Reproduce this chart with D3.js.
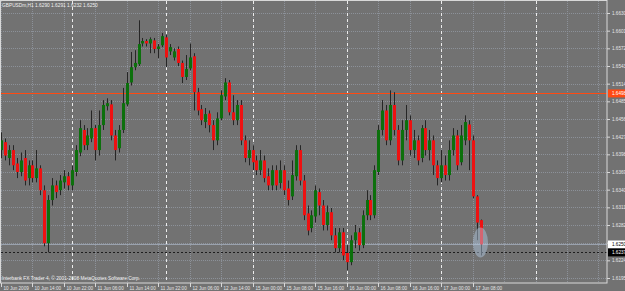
<!DOCTYPE html>
<html>
<head>
<meta charset="utf-8">
<script src="https://cdn.jsdelivr.net/npm/d3@7"></script>
<style>
  body { margin: 0; background: #727272; }
  svg { display: block; }
  text { font-family: "Liberation Sans", Arial, sans-serif; }
</style>
</head>
<body>
<div id="chart"></div>
<script>
// GBPUSDm H1 candles, 10 Jun 2009 06:00 .. 17 Jun 2009 10:00
var symbolTitle = "GBPUSDm,H1  1.6290 1.6291 1.6232 1.6250";
var copyright = "Interbank FX Trader 4, \u00a9 2001-2008 MetaQuotes Software Corp.";

// one label every 8 bars, first at bar 0
var timeLabels = ["10 Jun 2009", "10 Jun 14:00", "10 Jun 22:00", "11 Jun 06:00", "11 Jun 14:00",
  "11 Jun 22:00", "12 Jun 06:00", "12 Jun 14:00", "15 Jun 00:00", "15 Jun 08:00", "15 Jun 16:00",
  "16 Jun 00:00", "16 Jun 08:00", "16 Jun 16:00", "17 Jun 00:00", "17 Jun 08:00"];
var labelStep = 8;
// bar index where a new day starts
var daySeparators = [18, 42, 64, 88, 112, 136];

var priceTicks = [1.6195, 1.6224, 1.6253, 1.6282, 1.6311, 1.6340, 1.6369, 1.6398,
  1.6427, 1.6456, 1.6485, 1.6514, 1.6543, 1.6572, 1.6601, 1.6630];

var levelLine = 1.6498;   // orange horizontal line
var bidPrice = 1.6250;
var markerLine = 1.6237;  // dotted black line

// open, high, low, close
var ohlc = [
  [1.6405, 1.6434, 1.6392, 1.6421], [1.6418, 1.6424, 1.6388, 1.6396], [1.6392, 1.6413, 1.6380, 1.6405],
  [1.6405, 1.6413, 1.6372, 1.6380], [1.6383, 1.6392, 1.6359, 1.6369], [1.6369, 1.6401, 1.6362, 1.6388],
  [1.6392, 1.6405, 1.6347, 1.6355], [1.6359, 1.6388, 1.6347, 1.6380], [1.6380, 1.6388, 1.6352, 1.6359],
  [1.6359, 1.6405, 1.6352, 1.6375], [1.6375, 1.6380, 1.6331, 1.6339], [1.6339, 1.6347, 1.6247, 1.6252],
  [1.6252, 1.6331, 1.6237, 1.6323], [1.6323, 1.6359, 1.6314, 1.6347], [1.6347, 1.6355, 1.6326, 1.6336],
  [1.6339, 1.6364, 1.6331, 1.6355], [1.6352, 1.6372, 1.6342, 1.6362], [1.6362, 1.6369, 1.6339, 1.6347],
  [1.6347, 1.6380, 1.6339, 1.6372], [1.6369, 1.6413, 1.6362, 1.6405], [1.6401, 1.6454, 1.6395, 1.6441],
  [1.6438, 1.6446, 1.6405, 1.6413], [1.6413, 1.6441, 1.6405, 1.6429], [1.6424, 1.6470, 1.6418, 1.6441],
  [1.6441, 1.6446, 1.6388, 1.6405], [1.6405, 1.6470, 1.6396, 1.6446], [1.6446, 1.6487, 1.6438, 1.6479],
  [1.6477, 1.6490, 1.6470, 1.6482], [1.6480, 1.6487, 1.6421, 1.6429], [1.6429, 1.6438, 1.6388, 1.6405],
  [1.6408, 1.6446, 1.6401, 1.6438], [1.6438, 1.6507, 1.6433, 1.6482], [1.6480, 1.6533, 1.6477, 1.6515],
  [1.6516, 1.6566, 1.6511, 1.6541], [1.6541, 1.6569, 1.6536, 1.6548], [1.6546, 1.6618, 1.6543, 1.6579],
  [1.6580, 1.6589, 1.6575, 1.6584], [1.6584, 1.6587, 1.6575, 1.6580], [1.6580, 1.6590, 1.6564, 1.6587],
  [1.6585, 1.6589, 1.6564, 1.6571], [1.6571, 1.6579, 1.6556, 1.6575], [1.6577, 1.6597, 1.6574, 1.6592],
  [1.6590, 1.6594, 1.6541, 1.6557], [1.6567, 1.6579, 1.6561, 1.6574], [1.6557, 1.6572, 1.6552, 1.6567],
  [1.6571, 1.6575, 1.6543, 1.6548], [1.6548, 1.6552, 1.6515, 1.6525], [1.6525, 1.6561, 1.6520, 1.6538],
  [1.6539, 1.6580, 1.6536, 1.6557], [1.6559, 1.6564, 1.6470, 1.6500], [1.6500, 1.6507, 1.6462, 1.6470],
  [1.6472, 1.6479, 1.6446, 1.6454], [1.6451, 1.6474, 1.6441, 1.6464], [1.6465, 1.6470, 1.6434, 1.6446],
  [1.6446, 1.6454, 1.6405, 1.6421], [1.6421, 1.6467, 1.6413, 1.6457], [1.6457, 1.6503, 1.6454, 1.6495],
  [1.6493, 1.6523, 1.6487, 1.6516], [1.6516, 1.6520, 1.6462, 1.6467], [1.6467, 1.6495, 1.6446, 1.6454],
  [1.6454, 1.6487, 1.6446, 1.6479], [1.6479, 1.6487, 1.6413, 1.6421], [1.6421, 1.6429, 1.6385, 1.6392],
  [1.6392, 1.6421, 1.6380, 1.6405], [1.6405, 1.6413, 1.6372, 1.6385], [1.6388, 1.6396, 1.6364, 1.6372],
  [1.6372, 1.6405, 1.6364, 1.6388], [1.6388, 1.6396, 1.6352, 1.6359], [1.6362, 1.6375, 1.6339, 1.6347],
  [1.6347, 1.6380, 1.6339, 1.6372], [1.6372, 1.6380, 1.6339, 1.6347], [1.6351, 1.6388, 1.6342, 1.6372],
  [1.6372, 1.6380, 1.6331, 1.6339], [1.6342, 1.6355, 1.6314, 1.6323], [1.6329, 1.6388, 1.6323, 1.6364],
  [1.6362, 1.6413, 1.6355, 1.6405], [1.6405, 1.6413, 1.6347, 1.6355], [1.6355, 1.6364, 1.6290, 1.6298],
  [1.6301, 1.6314, 1.6265, 1.6273], [1.6277, 1.6306, 1.6270, 1.6298], [1.6296, 1.6347, 1.6286, 1.6339],
  [1.6336, 1.6342, 1.6298, 1.6314], [1.6314, 1.6323, 1.6273, 1.6282], [1.6282, 1.6314, 1.6273, 1.6303],
  [1.6303, 1.6310, 1.6257, 1.6265], [1.6265, 1.6277, 1.6237, 1.6244], [1.6244, 1.6277, 1.6237, 1.6270],
  [1.6270, 1.6277, 1.6224, 1.6232], [1.6236, 1.6249, 1.6208, 1.6221], [1.6221, 1.6265, 1.6216, 1.6257],
  [1.6257, 1.6282, 1.6244, 1.6270], [1.6270, 1.6277, 1.6240, 1.6249], [1.6249, 1.6306, 1.6244, 1.6298],
  [1.6298, 1.6339, 1.6290, 1.6323], [1.6323, 1.6331, 1.6290, 1.6298], [1.6298, 1.6380, 1.6293, 1.6372],
  [1.6369, 1.6446, 1.6364, 1.6438], [1.6438, 1.6487, 1.6429, 1.6470], [1.6470, 1.6479, 1.6413, 1.6421],
  [1.6421, 1.6503, 1.6413, 1.6479], [1.6479, 1.6500, 1.6429, 1.6438], [1.6438, 1.6446, 1.6380, 1.6388],
  [1.6388, 1.6454, 1.6380, 1.6438], [1.6438, 1.6479, 1.6421, 1.6454], [1.6454, 1.6462, 1.6396, 1.6405],
  [1.6405, 1.6438, 1.6392, 1.6421], [1.6421, 1.6429, 1.6380, 1.6388], [1.6392, 1.6446, 1.6385, 1.6441],
  [1.6441, 1.6454, 1.6396, 1.6405], [1.6405, 1.6438, 1.6388, 1.6421], [1.6421, 1.6429, 1.6364, 1.6380],
  [1.6380, 1.6388, 1.6347, 1.6359], [1.6359, 1.6405, 1.6352, 1.6380], [1.6380, 1.6396, 1.6355, 1.6364],
  [1.6364, 1.6421, 1.6355, 1.6405], [1.6405, 1.6441, 1.6396, 1.6429], [1.6429, 1.6438, 1.6372, 1.6380],
  [1.6385, 1.6446, 1.6380, 1.6429], [1.6421, 1.6462, 1.6413, 1.6451], [1.6447, 1.6454, 1.6372, 1.6421],
  [1.6421, 1.6429, 1.6326, 1.6329], [1.6329, 1.6331, 1.6257, 1.6286], [1.6290, 1.6291, 1.6232, 1.6250]
];

var svgWidth = 625;
var svgHeight = 291;
var plotRight = 607;
var plotBottom = 283;

var svg = d3.select("#chart")
  .append("svg")
  .attr("width", svgWidth)
  .attr("height", svgHeight);

svg.append("rect")
  .attr("width", svgWidth)
  .attr("height", svgHeight)
  .attr("fill", "#727272");

// bar index -> x, price -> y
var xScale = d3.scaleLinear().domain([0, 122]).range([1, 480.5]);
var yScale = d3.scaleLinear().domain([1.6195, 1.6630]).range([278, 13]);

var gridColor = "#8c9199";

// grid
var gridBars = d3.range(0, 160, labelStep).filter(i => xScale(i) < plotRight - 2);
svg.append("g").selectAll("line")
  .data(gridBars)
  .enter()
  .append("line")
  .attr("x1", d => Math.round(xScale(d)) + 0.5)
  .attr("x2", d => Math.round(xScale(d)) + 0.5)
  .attr("y1", 1)
  .attr("y2", plotBottom)
  .attr("stroke", gridColor)
  .attr("stroke-dasharray", "1,1");

svg.append("g").selectAll("line")
  .data(priceTicks)
  .enter()
  .append("line")
  .attr("x1", 1)
  .attr("x2", plotRight)
  .attr("y1", d => Math.round(yScale(d)) + 0.5)
  .attr("y2", d => Math.round(yScale(d)) + 0.5)
  .attr("stroke", gridColor)
  .attr("stroke-dasharray", "1,1");

// day separators
svg.append("g").selectAll("line")
  .data(daySeparators)
  .enter()
  .append("line")
  .attr("x1", d => Math.round(xScale(d)) + 0.5)
  .attr("x2", d => Math.round(xScale(d)) + 0.5)
  .attr("y1", 1)
  .attr("y2", plotBottom)
  .attr("stroke", "#ececec")
  .attr("stroke-dasharray", "3,3");

// orange level
svg.append("line")
  .attr("x1", 1).attr("x2", plotRight)
  .attr("y1", Math.round(yScale(levelLine)) + 0.5)
  .attr("y2", Math.round(yScale(levelLine)) + 0.5)
  .attr("stroke", "#ff4a12");

// bid line
svg.append("line")
  .attr("x1", 1).attr("x2", plotRight)
  .attr("y1", Math.round(yScale(bidPrice)) + 0.5)
  .attr("y2", Math.round(yScale(bidPrice)) + 0.5)
  .attr("stroke", "#9aa2ae");

svg.append("line")
  .attr("x1", 1).attr("x2", plotRight)
  .attr("y1", Math.round(yScale(markerLine)) + 0.5)
  .attr("y2", Math.round(yScale(markerLine)) + 0.5)
  .attr("stroke", "#1e1e1e")
  .attr("stroke-dasharray", "2,2");

// candles
var candles = svg.append("g").selectAll("g")
  .data(ohlc)
  .enter()
  .append("g");

candles.append("line")
  .attr("x1", (d, i) => Math.round(xScale(i)) + 0.5)
  .attr("x2", (d, i) => Math.round(xScale(i)) + 0.5)
  .attr("y1", d => yScale(d[1]))
  .attr("y2", d => yScale(d[2]))
  .attr("stroke", "#262626");

candles.append("rect")
  .attr("x", (d, i) => Math.round(xScale(i)) - 1)
  .attr("width", 3)
  .attr("y", d => Math.min(yScale(d[0]), yScale(d[3])))
  .attr("height", d => Math.max(1, Math.abs(yScale(d[0]) - yScale(d[3]))))
  .attr("fill", d => d[3] >= d[0] ? "#0c700c" : "#ee1111");

// highlight round the last candle
var last = ohlc.length - 1;
svg.append("ellipse")
  .attr("cx", xScale(last))
  .attr("cy", (yScale(ohlc[last][1]) + yScale(ohlc[last][2])) / 2 + 5)
  .attr("rx", 7.5)
  .attr("ry", 15)
  .attr("fill", "#b4cde6")
  .attr("opacity", 0.45);

// frame
svg.append("rect")
  .attr("x", 0.5).attr("y", 0.5)
  .attr("width", plotRight - 0.5)
  .attr("height", plotBottom - 0.5)
  .attr("fill", "none")
  .attr("stroke", "#d8d8d8");

// right price axis
var rightAxis = d3.axisRight(yScale)
  .tickValues(priceTicks)
  .tickFormat(d3.format(".4f"))
  .tickSize(3)
  .tickPadding(2);

var yAxisG = svg.append("g")
  .attr("transform", `translate(${plotRight}, 0)`)
  .call(rightAxis);
yAxisG.select(".domain").remove();
yAxisG.selectAll("line").attr("stroke", "#d8d8d8");
yAxisG.selectAll("text")
  .attr("fill", "#e6e6e6")
  .attr("font-size", "4.6px")
  .attr("font-family", "Liberation Sans, Arial, sans-serif");

// price tags on the axis
var tags = [
  { price: levelLine, bg: "#ff4a12", fg: "#ffffff" },
  { price: bidPrice, bg: "#ffffff", fg: "#000000" },
  { price: markerLine, bg: "#000000", fg: "#ffffff" }
];
var tagG = svg.append("g").selectAll("g")
  .data(tags)
  .enter()
  .append("g")
  .attr("transform", d => `translate(${plotRight + 1}, ${yScale(d.price)})`);
tagG.append("rect")
  .attr("x", 0).attr("y", -4)
  .attr("width", 17).attr("height", 8)
  .attr("fill", d => d.bg);
tagG.append("text")
  .attr("x", 4).attr("y", 0)
  .attr("dy", "0.35em")
  .attr("font-size", "4.6px")
  .attr("fill", d => d.fg)
  .text(d => d3.format(".4f")(d.price));

// bottom time axis
var timeG = svg.append("g").selectAll("g")
  .data(timeLabels)
  .enter()
  .append("g")
  .attr("transform", (d, i) => `translate(${Math.round(xScale(i * labelStep)) + 0.5}, ${plotBottom})`);
timeG.append("line")
  .attr("y1", 0).attr("y2", 4)
  .attr("stroke", "#d8d8d8");
timeG.append("text")
  .attr("x", 2).attr("y", 6.5)
  .attr("font-size", "4.6px")
  .attr("fill", "#e6e6e6")
  .text(d => d);

// texts
svg.append("text")
  .attr("x", 2).attr("y", 7)
  .attr("font-size", "4.8px")
  .attr("fill", "#f0f0f0")
  .text(symbolTitle);

svg.append("text")
  .attr("x", 2).attr("y", 280)
  .attr("font-size", "4.8px")
  .attr("fill", "#f0f0f0")
  .text(copyright);
</script>
</body>
</html>
